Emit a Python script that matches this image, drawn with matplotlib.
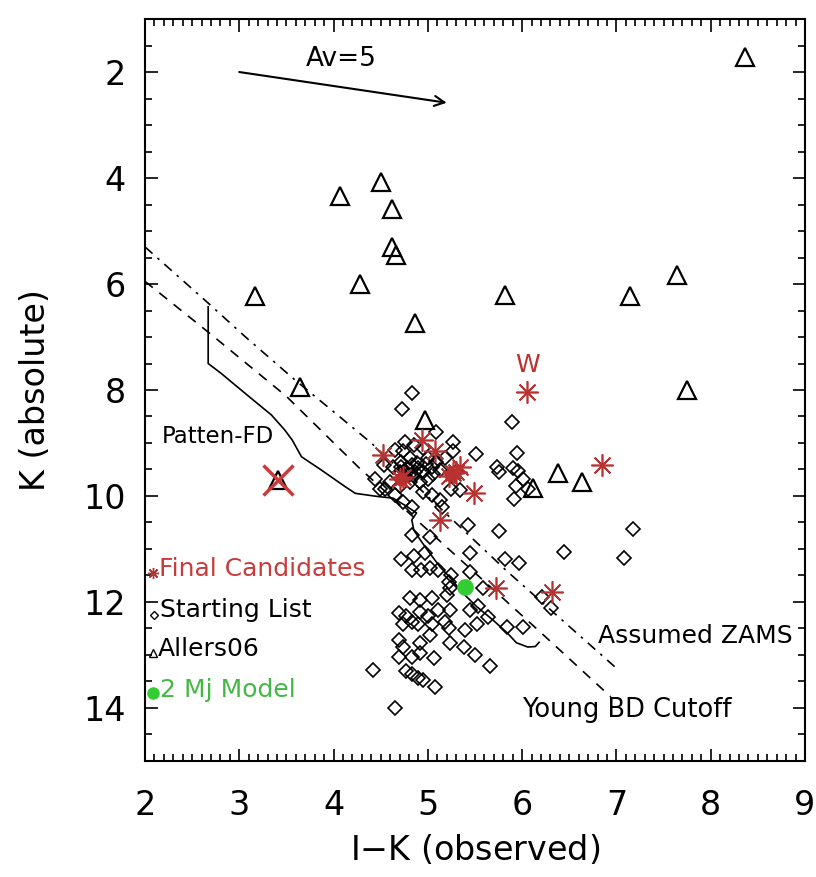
import numpy as np
import matplotlib
matplotlib.use("Agg")
import matplotlib.pyplot as plt
from matplotlib.ticker import MultipleLocator

# Starting list (diamonds): I-K observed, K absolute
start_x = [4.83, 4.73, 5.89, 5.09, 4.76, 5.27, 5.51, 5.95, 5.73, 5.75, 5.90, 5.96,
           6.01, 5.94, 6.06, 5.91,
           4.65, 4.74, 4.85, 4.95, 5.18, 5.27, 4.53, 4.63, 4.72, 4.81, 4.88, 5.00,
           5.04, 5.09, 5.13, 4.86, 4.95, 4.77, 4.44, 4.60, 4.55, 4.70, 4.81, 4.92,
           5.00, 5.30, 5.34, 5.25, 4.65, 4.95, 5.04, 5.13, 5.15, 4.74, 4.83, 4.49,
           4.72, 4.78, 4.83, 4.76, 4.80, 4.70, 4.90, 4.85, 5.05, 4.98,
           5.43, 5.75, 4.83, 5.02, 5.45, 4.72, 4.85, 4.97, 5.82, 5.97, 6.44, 7.18,
           7.08, 4.83, 4.93, 5.02, 5.11, 5.25, 5.45, 5.22, 5.23, 5.20, 5.58, 4.81,
           4.92, 5.04, 6.21, 6.31, 5.53,
           4.69, 4.77, 4.92, 5.00, 5.11, 5.23, 5.45, 4.90, 5.04, 5.18, 5.52, 5.64,
           4.74, 4.83, 5.22, 5.39, 5.84, 6.01, 4.69, 4.74, 4.92, 5.02, 5.23, 5.38,
           4.69, 4.92, 5.06, 5.50, 5.66, 4.42, 4.77, 4.83, 4.90, 4.95, 5.08, 4.65,
           4.83]
start_y = [8.05, 8.36, 8.61, 8.79, 8.98, 8.99, 9.20, 9.19, 9.46, 9.55, 9.48, 9.52,
           9.68, 9.82, 9.86, 10.05,
           9.13, 9.16, 9.04, 9.10, 9.29, 9.16, 9.42, 9.45, 9.35, 9.29, 9.38, 9.29,
           9.45, 9.35, 9.51, 9.54, 9.54, 9.57, 9.67, 9.73, 9.86, 9.82, 9.73, 9.73,
           9.67, 9.54, 9.89, 9.86, 9.98, 9.92, 9.98, 10.08, 10.20, 10.11, 10.20, 9.86,
           9.45, 9.48, 9.42, 9.52, 9.60, 9.55, 9.47, 9.62, 9.58, 9.40,
           10.55, 10.66, 10.74, 10.77, 11.08, 11.18, 11.14, 11.08, 11.18, 11.27, 11.06, 10.63,
           11.17, 11.40, 11.40, 11.36, 11.40, 11.49, 11.43, 11.62, 11.74, 11.87, 11.74, 11.93,
           11.96, 11.93, 11.90, 12.12, 12.08,
           12.21, 12.27, 12.18, 12.27, 12.15, 12.15, 12.15, 12.41, 12.41, 12.37, 12.41, 12.28,
           12.41, 12.37, 12.50, 12.53, 12.47, 12.48, 12.72, 12.84, 12.78, 12.62, 12.78, 12.84,
           13.03, 12.97, 13.06, 13.00, 13.20, 13.28, 13.31, 13.35, 13.44, 13.47, 13.60, 14.00,
           13.03]

# Allers06 (triangles)
allers_x = [8.36, 4.07, 4.50, 4.62, 4.62, 4.66, 4.28, 3.17, 5.82, 7.14, 7.64, 4.86,
            7.75, 3.64, 4.97, 6.38, 6.63, 6.11, 3.41]
allers_y = [1.71, 4.33, 4.07, 4.59, 5.30, 5.46, 6.00, 6.22, 6.21, 6.23, 5.83, 6.73,
            8.00, 7.94, 8.57, 9.57, 9.74, 9.85, 9.70]

# Final candidates (asterisks)
final_x = [6.05, 6.85, 5.49, 5.13, 5.72, 6.32, 4.52, 4.94, 5.08, 4.74, 5.27, 5.34,
           5.22, 4.70, 5.30]
final_y = [8.03, 9.42, 9.95, 10.45, 11.73, 11.82, 9.23, 8.94, 9.16, 9.65, 9.57, 9.45,
           9.63, 9.68, 9.55]
blob_x = [4.72, 5.25]
blob_y = [9.67, 9.60]

# rejected object
reject_x = [3.41]
reject_y = [9.70]

# 2 Mj model point
model_x = [5.39]
model_y = [11.72]

# Patten field-dwarf sequence
patten_x = [2.67, 2.67, 2.81, 3.06, 3.34, 3.48, 3.56, 3.66, 3.87, 4.12, 4.23, 4.47,
            4.63, 4.78, 4.88, 4.83, 4.85, 4.92, 5.02, 5.13, 5.23, 5.37, 5.52, 5.69,
            5.84, 5.94, 6.06, 6.14, 6.18]
patten_y = [6.43, 7.50, 7.69, 8.06, 8.47, 8.75, 8.94, 9.26, 9.51, 9.82, 9.95, 10.01,
            10.04, 10.20, 10.32, 10.45, 10.64, 10.83, 11.08, 11.34, 11.53, 11.83, 12.09, 12.34,
            12.58, 12.77, 12.85, 12.84, 12.76]

# young brown dwarf cutoff and assumed ZAMS
bd_x = [2.0, 2.7, 3.5, 4.26, 5.27, 6.2, 6.94]
bd_y = [5.95, 6.95, 8.12, 9.45, 11.08, 12.58, 13.79]
zams_x = [2.0, 2.67, 3.06, 3.59, 3.98, 4.40, 5.84, 7.0]
zams_y = [5.30, 6.36, 6.99, 7.81, 8.38, 9.0, 11.42, 13.25]

# reddening vector Av=5
av_start = (3.0, 2.0)
av_end = (5.2, 2.58)

red = "#b83232"
green = "#33cc33"
star = (8, 2, 0)

fig = plt.figure(figsize=(8.16, 8.77), dpi=100)
ax = fig.add_axes([0.1777, 0.1323, 0.8088, 0.846])

ax.plot(patten_x, patten_y, color="black", lw=1.2)
ax.plot(bd_x, bd_y, color="black", lw=1.2, ls=(0, (6, 5)))
ax.plot(zams_x, zams_y, color="black", lw=1.2, ls=(0, (6, 4, 1.5, 4)))

ax.plot(start_x, start_y, ls="none", marker="D", ms=7.5, mfc="none", mec="black", mew=1.2)
ax.plot(allers_x, allers_y, ls="none", marker="^", ms=13, mfc="none", mec="black", mew=1.6)
ax.plot(blob_x, blob_y, ls="none", marker="o", ms=9, color="#d02020")
ax.plot(final_x, final_y, ls="none", marker=star, ms=16, color=red, mew=1.2)
ax.plot(reject_x, reject_y, ls="none", marker="x", ms=22, color="#c83c3c", mew=2.5)
ax.plot(model_x, model_y, ls="none", marker="o", ms=11, color=green)

ax.annotate("", xy=av_end, xytext=av_start,
            arrowprops=dict(arrowstyle="->", color="black", lw=1.5,
                            mutation_scale=18, shrinkA=0, shrinkB=0))
ax.text(4.08, 1.75, "Av=5", fontsize=19, ha="center", va="center")
ax.text(6.06, 7.52, "W", fontsize=18, color=red, ha="center", va="center")
ax.text(2.18, 8.88, "Patten-FD", fontsize=16.5, ha="left", va="center")
ax.text(6.80, 12.65, "Assumed ZAMS", fontsize=18, ha="left", va="center")
ax.text(6.00, 14.04, "Young BD Cutoff", fontsize=18.5, ha="left", va="center")

# hand-placed key in the lower left corner
ax.plot([2.08], [11.46], ls="none", marker=star, ms=8, color=red, mew=1.0)
ax.text(2.15, 11.38, "Final Candidates", fontsize=18, color="#c83c3c", ha="left", va="center")
ax.plot([2.10], [12.25], ls="none", marker="D", ms=4, mfc="none", mec="black", mew=1.0)
ax.text(2.16, 12.16, "Starting List", fontsize=18, ha="left", va="center")
ax.plot([2.08], [12.97], ls="none", marker="^", ms=6, mfc="none", mec="black", mew=1.0)
ax.text(2.14, 12.88, "Allers06", fontsize=18, ha="left", va="center")
ax.plot([2.08], [13.72], ls="none", marker="o", ms=8, color=green)
ax.text(2.16, 13.66, "2 Mj Model", fontsize=18, color="#44b844", ha="left", va="center")

ax.set_xlim(2, 9)
ax.set_ylim(15, 1)
ax.xaxis.set_major_locator(MultipleLocator(1))
ax.xaxis.set_minor_locator(MultipleLocator(0.1))
ax.yaxis.set_major_locator(MultipleLocator(2))
ax.yaxis.set_minor_locator(MultipleLocator(0.5))
ax.tick_params(which="both", direction="in", top=True, right=True, width=1.2)
ax.tick_params(which="major", length=9, labelsize=24)
ax.tick_params(axis="x", which="major", pad=20)
ax.tick_params(axis="y", which="major", pad=14)
ax.tick_params(which="minor", length=5)
for s in ax.spines.values():
    s.set_linewidth(1.5)

ax.set_xlabel("I$-$K (observed)", fontsize=24, labelpad=8)
ax.set_ylabel("K (absolute)", fontsize=24, labelpad=22)

fig.savefig("out.png", dpi=100)
